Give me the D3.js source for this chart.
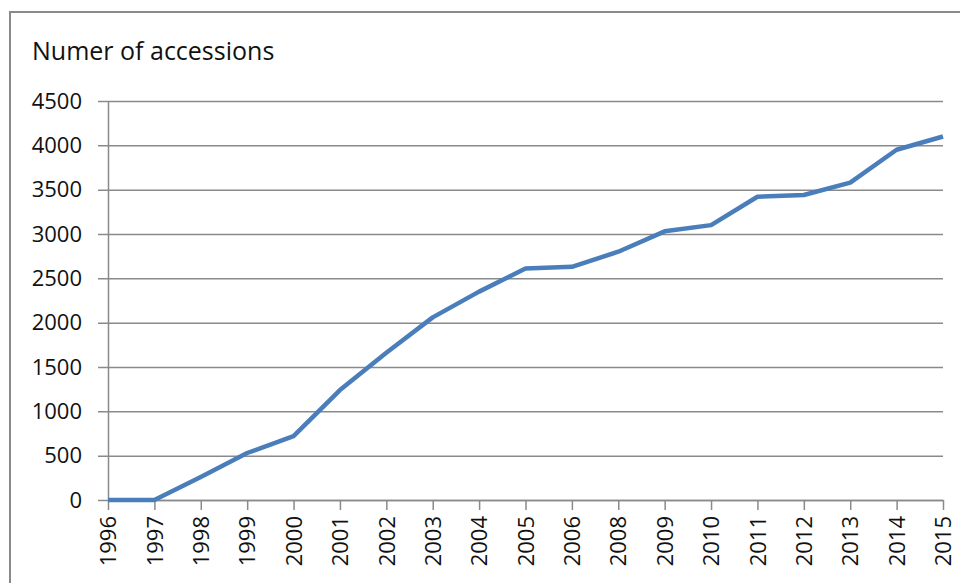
<!DOCTYPE html>
<html>
<head>
<meta charset="utf-8">
<script src="https://cdn.jsdelivr.net/npm/d3@7"></script>
<style>
  body { margin: 0; background: #fff; }
  svg { display: block; }
</style>
</head>
<body>
<svg id="chart" width="960" height="583"></svg>
<script>
// data
const years = ['1996', '1997', '1998', '1999', '2000', '2001', '2002', '2003', '2004', '2005',
  '2006', '2008', '2009', '2010', '2011', '2012', '2013', '2014', '2015'];
const accessions = [0, 0, 260, 530, 720, 1240, 1660, 2060, 2350, 2610,
  2630, 2800, 3030, 3100, 3420, 3440, 3580, 3950, 4100];
const yTicks = [0, 500, 1000, 1500, 2000, 2500, 3000, 3500, 4000, 4500];
const title = 'Numer of accessions';

const svg = d3.select('#chart');
const grey = '#8a8a8a';
const font = '"Open Sans", sans-serif';

// outer frame (runs off the right and bottom edge)
svg.append('rect')
  .attr('x', 10).attr('y', 12)
  .attr('width', 1000).attr('height', 700)
  .attr('fill', 'none')
  .attr('stroke', grey)
  .attr('stroke-width', 2);

svg.append('text')
  .attr('x', 32).attr('y', 60)
  .attr('font-family', font)
  .attr('font-size', 25)
  .attr('fill', '#111')
  .text(title);

const x = d3.scalePoint()
  .domain(years)
  .range([108, 943]);

const y = d3.scaleLinear()
  .domain([0, 4500])
  .range([500, 101]);

// gridlines + y labels
const gy = svg.append('g')
  .attr('transform', 'translate(98,0)')
  .call(d3.axisLeft(y).tickValues(yTicks).tickFormat(d3.format('d'))
    .tickSize(-(943 - 98)).tickPadding(16));
gy.select('.domain').remove();
gy.selectAll('line').attr('stroke', grey).attr('stroke-width', 1.5);
gy.selectAll('text')
  .attr('font-family', font)
  .attr('font-size', 22)
  .attr('fill', '#111');

// vertical axis line
svg.append('g')
  .attr('transform', 'translate(108,0)')
  .call(d3.axisLeft(y).tickValues([]).tickSizeOuter(0))
  .select('.domain').attr('stroke', grey).attr('stroke-width', 1.5);

// x axis
const gx = svg.append('g')
  .attr('transform', 'translate(0,500)')
  .call(d3.axisBottom(x).tickSize(10).tickSizeOuter(0).tickPadding(6));
gx.select('.domain').attr('stroke', grey).attr('stroke-width', 1.5);
gx.selectAll('line').attr('stroke', grey).attr('stroke-width', 1.5);
gx.selectAll('text')
  .attr('font-family', font)
  .attr('font-size', 22)
  .attr('fill', '#111')
  .attr('transform', 'rotate(-90)')
  .attr('text-anchor', 'end')
  .attr('x', -16)
  .attr('y', 0)
  .attr('dy', '0.35em');

const line = d3.line()
  .x((d, i) => x(years[i]))
  .y(d => y(d));

svg.append('path')
  .datum(accessions)
  .attr('fill', 'none')
  .attr('stroke', '#4a7ebb')
  .attr('stroke-width', 4.5)
  .attr('stroke-linejoin', 'round')
  .attr('d', line);
</script>
</body>
</html>
